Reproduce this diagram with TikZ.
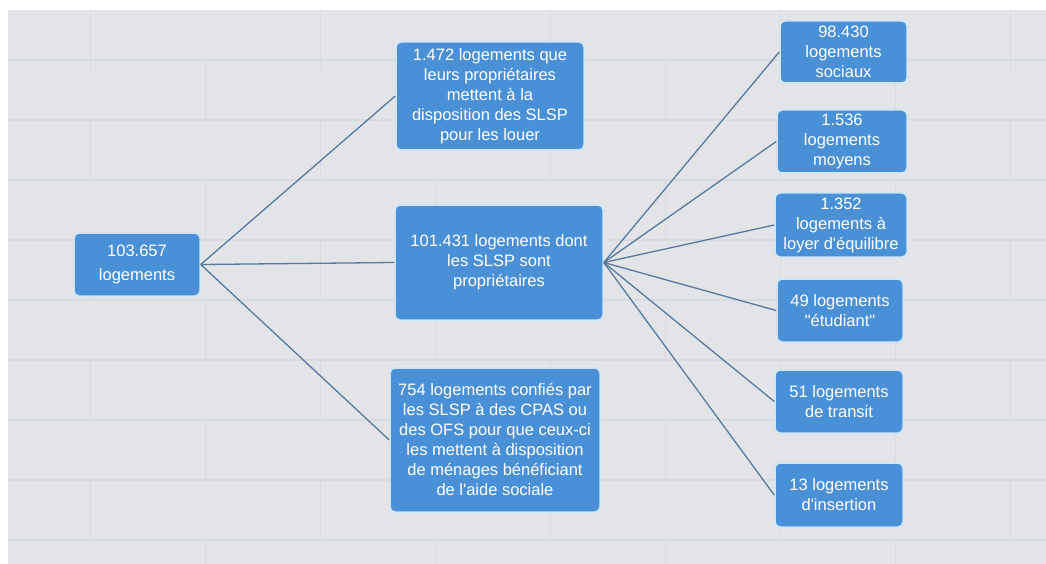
\documentclass[tikz,border=0pt]{standalone}
\usepackage{fontspec}
\setmainfont{Liberation Sans}
\definecolor{wall}{HTML}{E2E4E7}
\definecolor{mortar}{HTML}{D7DADE}
\definecolor{boxblue}{HTML}{4A90D6}
\definecolor{boxrim}{HTML}{CDE6F7}
\definecolor{link}{HTML}{5879A0}
\begin{document}
\begin{tikzpicture}[x=1pt, y=-1pt]
  \tikzstyle{box}=[rectangle, rounded corners=5pt, draw=boxrim, line width=1.5pt, fill=boxblue,
    text=white, align=center, inner sep=2pt, font=\fontsize{16.5}{20}\selectfont]
  \tikzstyle{link}=[draw=link, line width=1.3pt]

  \useasboundingbox (0, 0) rectangle (1046, 564);
  \fill[white] (0, 0) rectangle (1046, 564);
  \fill[wall] (8, 10) rectangle (1046, 564);

  % brick wall
  \foreach \y in {60, 120, 180, 240, 300, 360, 420, 480, 540}
    \draw[mortar, line width=1.2pt] (8, \y) -- (1046, \y);
  \foreach \y [count=\i] in {10, 60, 120, 180, 240, 300, 360, 420, 480, 540} {
    \pgfmathsetmacro{\off}{mod(\i, 2) == 0 ? 115 : 0}
    \foreach \x in {90, 320, 550, 780, 1010}
      \draw[mortar, line width=1pt] ({\x + \off}, \y) -- ({\x + \off}, {min(\y + 60, 564)});
  }

  \node[box, minimum width=126pt, minimum height=63pt] (root) at (137, 264.5) {103.657\\[4pt]logements};

  \node[box, minimum width=188pt, minimum height=108pt] (bail) at (490, 96)
    {1.472 logements que\\leurs propriétaires\\mettent à la\\disposition des SLSP\\pour les louer};
  \node[box, minimum width=208pt, minimum height=115pt] (prop) at (499, 262.5)
    {101.431 logements dont\\les SLSP sont\\propriétaires};
  \node[box, minimum width=210pt, minimum height=144pt] (cpas) at (495, 440)
    {754 logements confiés par\\les SLSP à des CPAS ou\\des OFS pour que ceux-ci\\les mettent à disposition\\de ménages bénéficiant\\de l\textquotesingle aide sociale};

  \node[box, minimum width=127pt, minimum height=62pt] (soc) at (843.5, 52)  {98.430\\logements\\sociaux};
  \node[box, minimum width=130pt, minimum height=63pt] (moy) at (842, 141.5) {1.536\\logements\\moyens};
  \node[box, minimum width=132pt, minimum height=64pt] (equ) at (841, 225)   {1.352\\logements à\\loyer d\textquotesingle équilibre};
  \node[box, minimum width=126pt, minimum height=63pt] (etu) at (840, 310.5) {49 logements\\\textquotedbl étudiant\textquotedbl};
  \node[box, minimum width=128pt, minimum height=63pt] (tra) at (839, 401.5) {51 logements\\de transit};
  \node[box, minimum width=128pt, minimum height=64pt] (ins) at (839, 495)   {13 logements\\d\textquotesingle insertion};

  \path[link] (root.east) -- (bail.west);
  \path[link] (root.east) -- (prop.west);
  \path[link] (root.east) -- (cpas.west);

  \path[link] (prop.east) -- (soc.west);
  \path[link] (prop.east) -- (moy.west);
  \path[link] (prop.east) -- (equ.west);
  \path[link] (prop.east) -- (etu.west);
  \path[link] (prop.east) -- (tra.west);
  \path[link] (prop.east) -- (ins.west);

\end{tikzpicture}
\end{document}
